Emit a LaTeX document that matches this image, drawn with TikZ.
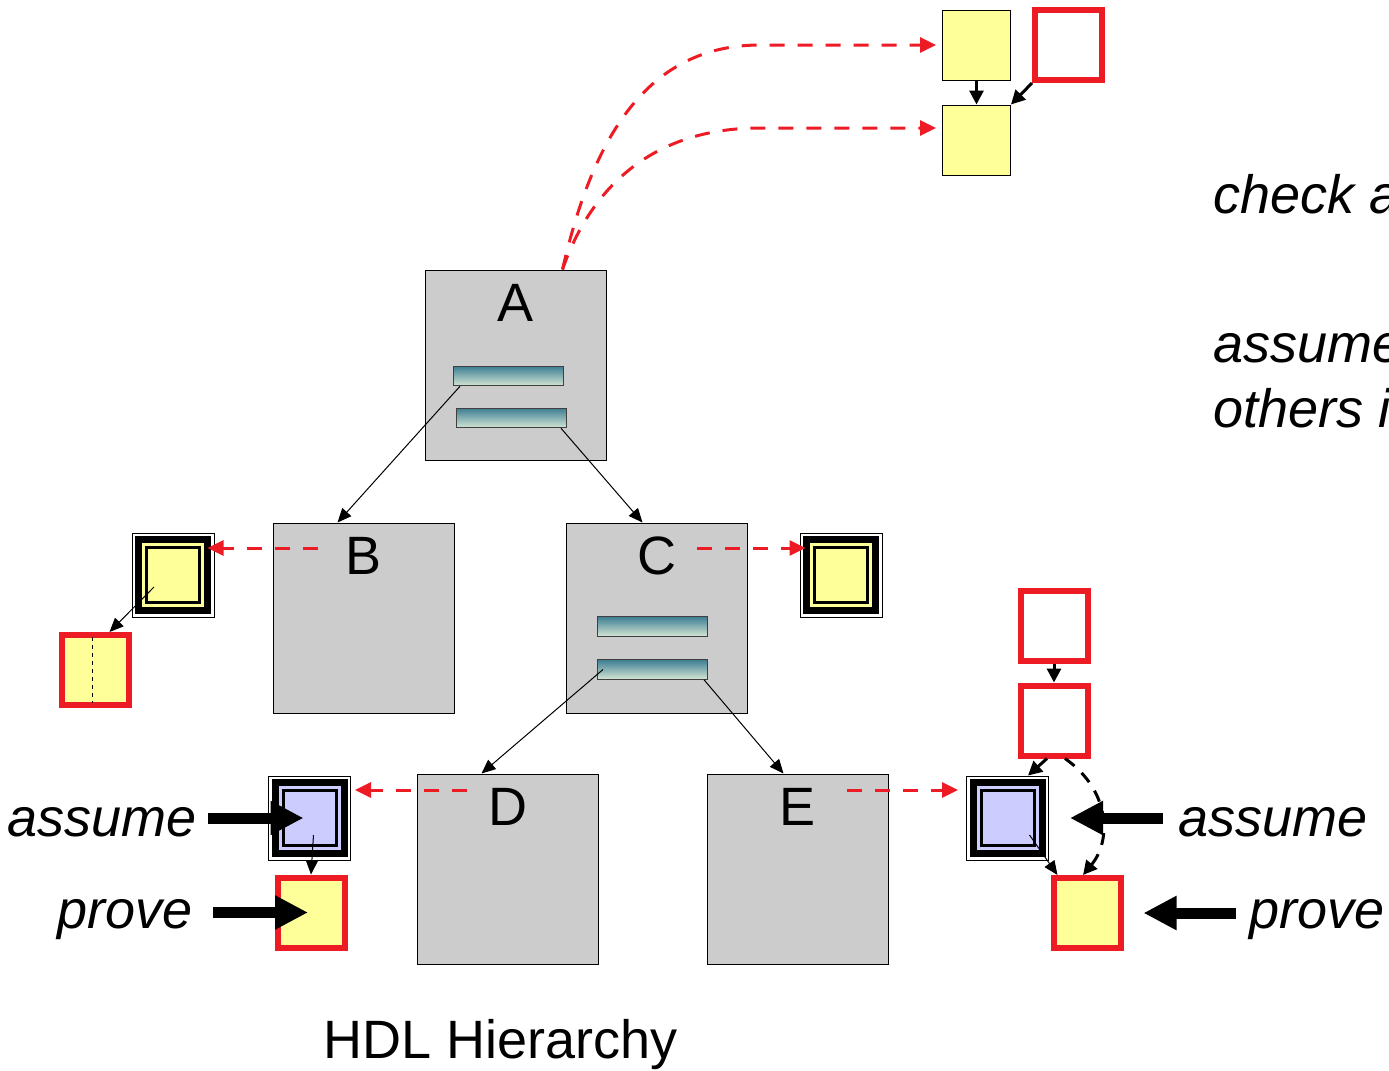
\documentclass[tikz,border=0pt]{standalone}
\usepackage{fontspec}
\setmainfont{Liberation Sans}
\usetikzlibrary{arrows.meta, positioning}
\definecolor{box-gray}{HTML}{CCCCCC}
\definecolor{prop-yellow}{HTML}{FFFF99}
\definecolor{prop-blue}{HTML}{CCCCFF}
\definecolor{prop-red}{HTML}{ED1C24}
\definecolor{bar-top}{HTML}{3E7E93}
\definecolor{bar-bot}{HTML}{D4E6D4}
\tikzset{
     %set default line width to 0.5pt
    every picture/.style={line width=0.5pt},
    mod-box/.style={
        draw,
        fill=box-gray,
        minimum width=90.5pt,
        minimum height=95pt,
        inner sep=0pt,
    },
    mod-label/.style={
        font=\fontsize{27}{32}\selectfont,
        anchor=base,
        inner sep=0pt,
    },
    side-text/.style={
        font=\fontsize{27}{32}\selectfont\itshape,
        inner sep=0pt,
    },
    inst-bar/.style={
        draw=black!75,
        top color=bar-top,
        bottom color=bar-bot,
        minimum width=55pt,
        minimum height=9.75pt,
        inner sep=0pt,
    },
    yellow-box/.style={
        draw,
        fill=prop-yellow,
        minimum width=34pt,
        minimum height=35pt,
        inner sep=0pt,
    },
    red-box/.style={
        draw=prop-red,
        line width=3pt,
        fill=white,
        minimum width=33.5pt,
        minimum height=35pt,
        inner sep=0pt,
    },
    prop-frame/.style={
        draw,
        fill=white,
        minimum width=41pt,
        minimum height=42pt,
        inner sep=0pt,
    },
    prop-band/.style={
        fill=black,
        minimum width=38pt,
        minimum height=39pt,
        inner sep=0pt,
    },
    prop-ring/.style={
        minimum width=31pt,
        minimum height=32pt,
        inner sep=0pt,
    },
    prop-core/.style={
        draw,
        line width=1.5pt,
        minimum width=26.5pt,
        minimum height=27.5pt,
        inner sep=0pt,
    },
    thin-arr/.style={
        line width=0.5pt,
        -{Triangle[length=7pt,width=6pt]},
    },
    step-arr/.style={
        line width=1.5pt,
        -{Triangle[length=7pt,width=7pt]},
    },
    dash-arr/.style={
        line width=1.5pt,
        dash pattern=on 6pt off 5pt,
        -{Triangle[length=7pt,width=7pt]},
    },
    red-arr/.style={
        draw=prop-red,
        line width=1.5pt,
        dash pattern=on 7.5pt off 6.5pt,
        -{Triangle[length=8pt,width=7.5pt]},
    },
    big-arr/.style={
        line width=5.5pt,
        -{Triangle[length=16.5pt,width=16pt]},
    }
}

\begin{document}
\begin{tikzpicture}[x=0.5pt,y=-0.5pt]
\useasboundingbox (0,0) rectangle (1389,1071);
\clip (0,0) rectangle (1389,1071);

%Module boxes
\node[mod-box] (A) at (515.5,365) {};
\node[mod-box] (B) at (363.5,618) {};
\node[mod-box] (C) at (656.5,618) {};
\node[mod-box] (D) at (507.5,869) {};
\node[mod-box] (E) at (797.5,869) {};
% Text Node
\node[mod-label] (A-lab) at ([yshift=-26pt]A.north) {A};
\node[mod-label] (B-lab) at ([yshift=-26pt]B.north) {B};
\node[mod-label] (C-lab) at ([yshift=-26pt]C.north) {C};
\node[mod-label] (D-lab) at ([yshift=-26pt]D.north) {D};
\node[mod-label] (E-lab) at ([yshift=-26pt]E.north) {E};

%Instance bars
\node[inst-bar] (A-bar1) at (508.5,376) {};
\node[inst-bar] (A-bar2) at (511.5,418) {};
\node[inst-bar] (C-bar1) at (652.5,626.5) {};
\node[inst-bar] (C-bar2) at (652.5,669.5) {};

%Hierarchy links
\draw[thin-arr] ([xshift=3.5pt]A-bar1.south west) -- ([xshift=-13pt]B.north);
\draw[thin-arr] ([xshift=-3pt]A-bar2.south east) -- ([xshift=-7pt]C.north);
\draw[thin-arr] ([xshift=3pt]C-bar2.west) -- ([xshift=-13pt]D.north);
\draw[thin-arr] ([xshift=-2pt]C-bar2.south east) -- ([xshift=-7pt]E.north);

%Top property squares
\node[yellow-box] (Y1) at (976.5,45) {};
\node[yellow-box] (Y2) at (976.5,140) {};
\node[red-box] (R0) at (1068.5,45) {};
\draw[step-arr] (Y1.south) -- (Y2.north);
\draw[step-arr] (R0.south west) -- (Y2.north east);
\coordinate (A-port) at ([xshift=23.5pt]A.north);
\draw[red-arr, shorten >=3pt] (A-port) .. controls (590,150) and (640,45) .. (760,45) -- (Y1.west);
\draw[red-arr, shorten >=3pt] (A-port) .. controls (590,190) and (650,128) .. (760,128) -- ([yshift=6pt]Y2.west);

%Property B
\node[prop-frame] (PB) at (173,575) {};
\node[prop-band] (PB-band) at (PB) {};
\node[prop-ring, fill=prop-yellow] (PB-ring) at (PB) {};
\node[prop-core, fill=prop-yellow] (PB-core) at (PB) {};
\node[red-box, fill=prop-yellow] (Y5) at (95.5,670) {};
\draw[dash pattern=on 2pt off 2pt] ([xshift=-1.75pt,yshift=-2.5pt]Y5.north) -- ([xshift=-1.75pt,yshift=2.5pt]Y5.south);
\draw[thin-arr] ([xshift=-9.5pt,yshift=-6pt]PB.center) -- ([xshift=7pt]Y5.north);
\coordinate (B-port) at (318,548);
\draw[red-arr, shorten >=-3.5pt] (B-port) -- (B-port -| PB.east);

%Property C
\node[prop-frame] (PC) at (841,575) {};
\node[prop-band] (PC-band) at (PC) {};
\node[prop-ring, fill=prop-yellow] (PC-ring) at (PC) {};
\node[prop-core, fill=prop-yellow] (PC-core) at (PC) {};
\coordinate (C-port) at (697,548);
\draw[red-arr, shorten >=-3pt] (C-port) -- (C-port -| PC.west);

%Property D
\node[prop-frame] (PD) at (309.5,818) {};
\node[prop-band] (PD-band) at (PD) {};
\node[prop-ring, fill=prop-blue] (PD-ring) at (PD) {};
\node[prop-core, fill=prop-blue] (PD-core) at (PD) {};
\node[red-box, fill=prop-yellow] (Y3) at (311,912.5) {};
\draw[thin-arr] ([xshift=2pt,yshift=-8.5pt]PD.center) -- (Y3.north);
\coordinate (D-port) at (467,790);
\draw[red-arr, shorten >=2pt] (D-port) -- (D-port -| PD.east);

%Property E
\node[prop-frame] (PE) at (1007.5,818) {};
\node[prop-band] (PE-band) at (PE) {};
\node[prop-ring, fill=prop-blue] (PE-ring) at (PE) {};
\node[prop-core, fill=prop-blue] (PE-core) at (PE) {};
\node[red-box] (R1) at (1054,625.5) {};
\node[red-box] (R2) at (1054,720.5) {};
\node[red-box, fill=prop-yellow] (Y4) at (1087,913) {};
\draw[step-arr] (R1.south) -- (R2.north);
\draw[step-arr] ([xshift=-3.5pt]R2.south) -- ([xshift=-10.5pt]PE.north east);
\draw[dash-arr] ([xshift=5.5pt]R2.south) .. controls (1110,790) and (1112,840) .. ([xshift=-2pt]Y4.north);
\draw[thin-arr] ([xshift=11pt,yshift=-8.5pt]PE.center) -- ([xshift=3.5pt]Y4.north west);
\coordinate (E-port) at (847,790);
\draw[red-arr, shorten >=4pt] (E-port) -- (E-port -| PE.west);

% Text Node
\node[side-text, anchor=base east] (asm-l) at (197,836) {assume};
\node[side-text, anchor=base east] (prv-l) at (193,928) {prove};
\node[side-text, anchor=base west] (asm-r) at (1178,836) {assume};
\node[side-text, anchor=base west] (prv-r) at (1249,928) {prove};
\draw[big-arr, shorten <=5.5pt] (asm-l.east |- PD.center) -- ([xshift=-3pt]PD.center);
\draw[big-arr, shorten <=10pt] (prv-l.east |- Y3.center) -- ([xshift=-1.5pt]Y3.center);
\draw[big-arr, shorten <=7.5pt] (asm-r.west |- PE.center) -- ([xshift=10.5pt]PE.east);
\draw[big-arr, shorten <=6.5pt] (prv-r.west |- Y4.center) -- ([xshift=10pt]Y4.east);

% Text Node
\node[side-text, anchor=base west] (note-chk) at (1213,213) {check a};
\node[side-text, anchor=base west] (note-asm) at (1213,362) {assume};
\node[side-text, anchor=base west] (note-oth) at (1213,427) {others i};
\node[mod-label, anchor=base west] (hdl) at (323,1058) {HDL Hierarchy};
\end{tikzpicture}
\end{document}
